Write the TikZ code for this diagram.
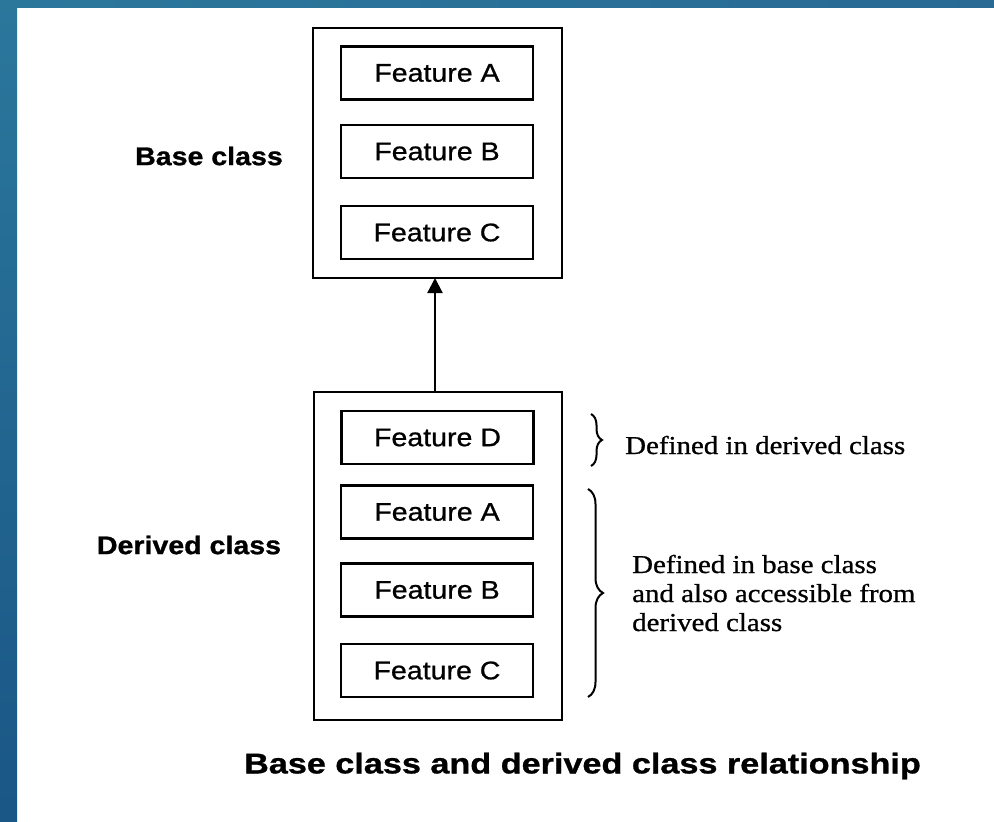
\documentclass[tikz,border=0pt]{standalone}
\usepackage{fontspec}
\setmainfont{Liberation Serif}
\newfontfamily\featfont[FakeStretch=1.12, FakeBold=0.8]{Liberation Sans}
\newfontfamily\labelfont[FakeStretch=1.12, FakeBold=1]{Liberation Sans Bold}
\newfontfamily\capfont[FakeStretch=1.2, FakeBold=1]{Liberation Sans Bold}
\newfontfamily\notefont[FakeStretch=1.12, FakeBold=0.8]{Liberation Serif}
\usetikzlibrary{arrows.meta,decorations.pathreplacing}

\definecolor{bandA}{HTML}{2B779C}
\definecolor{bandB}{HTML}{3790AA}
\definecolor{bandC}{HTML}{286A94}
\definecolor{bandD}{HTML}{1A5686}

\tikzset{
  classbox/.style={draw, line width=2.2pt, inner sep=0pt},
  featbox/.style={draw, line width=2.2pt, inner sep=0pt,
    minimum width=192pt, minimum height=53pt,
    font=\featfont\fontsize{25.5}{28}\selectfont},
  classlabel/.style={font=\labelfont\fontsize{25.5}{28}\selectfont, inner sep=0pt},
  note/.style={font=\notefont\fontsize{25.8}{29}\selectfont, inner sep=0pt, anchor=base west},
  curly/.style={decorate, line width=2pt},
  inherit/.style={line width=2.2pt, -{Triangle[length=15pt,width=15pt]}}
}

\begin{document}
\begin{tikzpicture}[x=1pt, y=-1pt]
  % page area and the blue frame strips along the top and left edges
  \useasboundingbox (0,0) rectangle (994,822);
  \fill[white] (0,0) rectangle (994,822);
  \shade[left color=bandA, middle color=bandB, right color=bandC] (0,0) rectangle (994,7);
  \shade[top color=bandA, bottom color=bandD] (0,0) rectangle (17,822);

  % base class
  \node[classbox, minimum width=249pt, minimum height=250pt] (base) at (437.5,153) {};
  \node[featbox] (bA) at (437,73) {Feature A};
  \node[featbox] (bB) at (437,151.5) {Feature B};
  \node[featbox] (bC) at (437,232.5) {Feature C};
  \node[classlabel] (baselbl) at (209,156) {Base class};

  % derived class
  \node[classbox, minimum width=248pt, minimum height=328pt] (derived) at (438,556) {};
  \node[featbox] (dD) at (437.5,437.5) {Feature D};
  \node[featbox] (dA) at (437,512) {Feature A};
  \node[featbox] (dB) at (437,590) {Feature B};
  \node[featbox] (dC) at (437,670.5) {Feature C};
  \node[classlabel] (derivedlbl) at (189,545) {Derived class};

  % inheritance arrow from derived class up to base class
  \coordinate (arrowfoot) at (435,392);
  \coordinate (arrowtip) at (435,278);
  \draw[inherit] (arrowfoot) -- (arrowtip);

  % braces with their notes
  \coordinate (brOneTop) at (591,414);
  \coordinate (brOneBot) at (591,466);
  \draw[curly, decoration={brace, amplitude=11pt}] (brOneTop) -- (brOneBot);
  \node[note] (noteD) at (625,454) {Defined in derived class};

  \coordinate (brTwoTop) at (588,489);
  \coordinate (brTwoBot) at (588,697);
  \draw[curly, decoration={brace, amplitude=15pt}] (brTwoTop) -- (brTwoBot);
  \node[note] (noteB1) at (632,573) {Defined in base class};
  \node[note] (noteB2) at (632,602) {and also accessible from};
  \node[note] (noteB3) at (632,631) {derived class};

  % caption
  \node[font=\capfont\fontsize{28.5}{32}\selectfont, inner sep=0pt] (caption) at (582.5,766) {Base class and derived class relationship};
\end{tikzpicture}
\end{document}
